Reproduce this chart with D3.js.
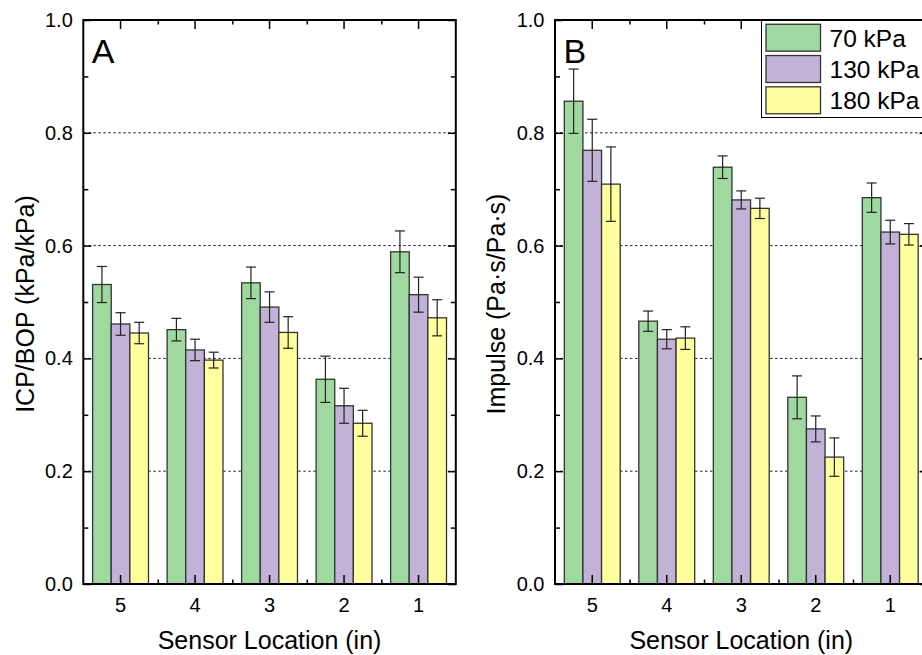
<!DOCTYPE html>
<html>
<head>
<meta charset="utf-8">
<script src="https://cdn.jsdelivr.net/npm/d3@7"></script>
<style>
  body { margin: 0; background: #fff; }
  svg { display: block; font-family: "Liberation Sans", Arial, sans-serif; }
</style>
</head>
<body>
<div id="chart"></div>
<script>
const kWidth = 922;
const kHeight = 655;
const kTop = 20;
const kBottom = 584;
const kPlotWidth = 372.5;

const locations = ["5", "4", "3", "2", "1"];
const pressures = ["70 kPa", "130 kPa", "180 kPa"];
const colors = ["#a0d9a0", "#c2b2d7", "#ffff9f"];

// panel A: ICP/BOP
const icpMean70 = [0.531, 0.451, 0.534, 0.363, 0.589];
const icpMean130 = [0.461, 0.415, 0.491, 0.316, 0.513];
const icpMean180 = [0.445, 0.397, 0.446, 0.285, 0.472];
const icpErr70 = [0.032, 0.020, 0.028, 0.041, 0.037];
const icpErr130 = [0.020, 0.019, 0.027, 0.031, 0.031];
const icpErr180 = [0.019, 0.014, 0.028, 0.023, 0.032];

// panel B: impulse
const impMean70 = [0.856, 0.466, 0.739, 0.331, 0.685];
const impMean130 = [0.769, 0.434, 0.681, 0.275, 0.624];
const impMean180 = [0.709, 0.436, 0.666, 0.225, 0.620];
const impErr70 = [0.057, 0.018, 0.020, 0.038, 0.026];
const impErr130 = [0.055, 0.017, 0.016, 0.023, 0.021];
const impErr180 = [0.066, 0.020, 0.018, 0.034, 0.019];

const yMajor = [0, 0.2, 0.4, 0.6, 0.8, 1.0];
const yMinor = [0.1, 0.3, 0.5, 0.7, 0.9];
const yGrid = [0.2, 0.4, 0.6, 0.8];

function buildRows(means, errs)
{
  const rows = [];
  locations.forEach((loc, i) => {
    pressures.forEach((p, j) => {
      rows.push({ loc: loc, p: p, k: j, v: means[j][i], e: errs[j][i] });
    });
  });
  return rows;
}

function drawPanel(svg, left, rows, letter, yTitle, titleX)
{
  const right = left + kPlotWidth;

  const xScale = d3.scaleBand()
    .domain(locations)
    .range([left, right]);

  const xSub = d3.scaleBand()
    .domain(pressures)
    .range([0, xScale.bandwidth()])
    .paddingOuter(0.5);

  const yScale = d3.scaleLinear()
    .domain([0, 1])
    .range([kBottom, kTop]);

  const g = svg.append("g");

  // dashed grid behind bars
  g.selectAll(".grid")
    .data(yGrid)
    .enter()
    .append("line")
    .attr("x1", left)
    .attr("x2", right)
    .attr("y1", d => yScale(d))
    .attr("y2", d => yScale(d))
    .attr("stroke", "#222")
    .attr("stroke-width", 1)
    .attr("stroke-dasharray", "2.5,2.5");

  // bars
  g.selectAll(".bar")
    .data(rows)
    .enter()
    .append("rect")
    .attr("x", d => xScale(d.loc) + xSub(d.p))
    .attr("y", d => yScale(d.v))
    .attr("width", xSub.bandwidth())
    .attr("height", d => yScale(0) - yScale(d.v))
    .attr("fill", d => colors[d.k])
    .attr("stroke", "#333")
    .attr("stroke-width", 1.3);

  // error bars
  const cx = d => xScale(d.loc) + xSub(d.p) + xSub.bandwidth() / 2;
  const eb = g.selectAll(".err")
    .data(rows)
    .enter()
    .append("g")
    .attr("stroke", "#222")
    .attr("stroke-width", 1.2);
  eb.append("line")
    .attr("x1", cx).attr("x2", cx)
    .attr("y1", d => yScale(d.v + d.e))
    .attr("y2", d => yScale(d.v - d.e));
  eb.append("line")
    .attr("x1", d => cx(d) - 5).attr("x2", d => cx(d) + 5)
    .attr("y1", d => yScale(d.v + d.e))
    .attr("y2", d => yScale(d.v + d.e));
  eb.append("line")
    .attr("x1", d => cx(d) - 5).attr("x2", d => cx(d) + 5)
    .attr("y1", d => yScale(d.v - d.e))
    .attr("y2", d => yScale(d.v - d.e));

  // axes with inward ticks
  const boundaries = locations.slice(1).map(l => xScale(l));
  const xMinorScale = d3.scaleIdentity().domain([left, right]);

  const styleAxis = sel => {
    sel.select(".domain").remove();
    sel.selectAll(".tick line").attr("stroke", "#000").attr("stroke-width", 1.5);
    sel.selectAll("text").attr("fill", "#000").style("font-size", "20px");
  };

  svg.append("g")
    .attr("transform", `translate(${left},0)`)
    .call(d3.axisLeft(yScale).tickValues(yMajor).tickFormat(d3.format(".1f")).tickSize(-8).tickPadding(10.5))
    .attr("font-family", null)
    .call(styleAxis);
  svg.append("g")
    .attr("transform", `translate(${left},0)`)
    .call(d3.axisLeft(yScale).tickValues(yMinor).tickFormat("").tickSize(-5))
    .call(styleAxis);
  svg.append("g")
    .attr("transform", `translate(${right},0)`)
    .call(d3.axisRight(yScale).tickValues(yMajor).tickFormat("").tickSize(-8))
    .call(styleAxis);
  svg.append("g")
    .attr("transform", `translate(${right},0)`)
    .call(d3.axisRight(yScale).tickValues(yMinor).tickFormat("").tickSize(-5))
    .call(styleAxis);

  svg.append("g")
    .attr("transform", `translate(0,${kBottom})`)
    .call(d3.axisBottom(xScale).tickSize(-9).tickPadding(13.5))
    .attr("font-family", null)
    .call(styleAxis);
  svg.append("g")
    .attr("transform", `translate(0,${kBottom})`)
    .call(d3.axisBottom(xMinorScale).tickValues(boundaries).tickFormat("").tickSize(-4.5))
    .call(styleAxis);
  svg.append("g")
    .attr("transform", `translate(0,${kTop})`)
    .call(d3.axisTop(xScale).tickFormat("").tickSize(-9))
    .call(styleAxis);
  svg.append("g")
    .attr("transform", `translate(0,${kTop})`)
    .call(d3.axisTop(xMinorScale).tickValues(boundaries).tickFormat("").tickSize(-4.5))
    .call(styleAxis);

  // frame
  svg.append("rect")
    .attr("x", left)
    .attr("y", kTop)
    .attr("width", kPlotWidth)
    .attr("height", kBottom - kTop)
    .attr("fill", "none")
    .attr("stroke", "#000")
    .attr("stroke-width", 2);

  svg.append("text")
    .attr("x", left + 8.5)
    .attr("y", 62.5)
    .style("font-size", "34px")
    .text(letter);

  svg.append("text")
    .attr("x", (left + right) / 2)
    .attr("y", 649)
    .attr("text-anchor", "middle")
    .style("font-size", "25px")
    .text("Sensor Location (in)");

  svg.append("text")
    .attr("transform", `translate(${titleX},${(kTop + kBottom) / 2 + 2}) rotate(-90)`)
    .attr("text-anchor", "middle")
    .style("font-size", "25px")
    .text(yTitle);
}

function drawLegend(svg)
{
  const legend = svg.append("g");
  legend.append("rect")
    .attr("x", 761.5)
    .attr("y", 20.5)
    .attr("width", 200)
    .attr("height", 97)
    .attr("fill", "#fff")
    .attr("stroke", "#000")
    .attr("stroke-width", 1);

  const rowY = d3.scaleBand()
    .domain(pressures)
    .range([23, 115])
    .paddingInner(0.14)
    .paddingOuter(0.04);

  legend.selectAll(".sw")
    .data(pressures)
    .enter()
    .append("rect")
    .attr("x", 766)
    .attr("y", d => rowY(d))
    .attr("width", 54.5)
    .attr("height", rowY.bandwidth())
    .attr("fill", (d, i) => colors[i])
    .attr("stroke", "#333")
    .attr("stroke-width", 1.3);

  legend.selectAll(".lt")
    .data(pressures)
    .enter()
    .append("text")
    .attr("x", 829.5)
    .attr("y", d => rowY(d) + rowY.bandwidth() / 2)
    .attr("dy", "0.36em")
    .style("font-size", "24.5px")
    .text(d => d);
}

document.addEventListener("DOMContentLoaded", () => {
  const svg = d3.select("#chart")
    .append("svg")
    .attr("width", kWidth)
    .attr("height", kHeight);

  const rowsA = buildRows([icpMean70, icpMean130, icpMean180], [icpErr70, icpErr130, icpErr180]);
  const rowsB = buildRows([impMean70, impMean130, impMean180], [impErr70, impErr130, impErr180]);

  drawPanel(svg, 83.3, rowsA, "A", "ICP/BOP (kPa/kPa)", 33.5);
  drawPanel(svg, 555, rowsB, "B", "Impulse (Pa\u00b7s/Pa\u00b7s)", 505);
  drawLegend(svg);
});
</script>
</body>
</html>
